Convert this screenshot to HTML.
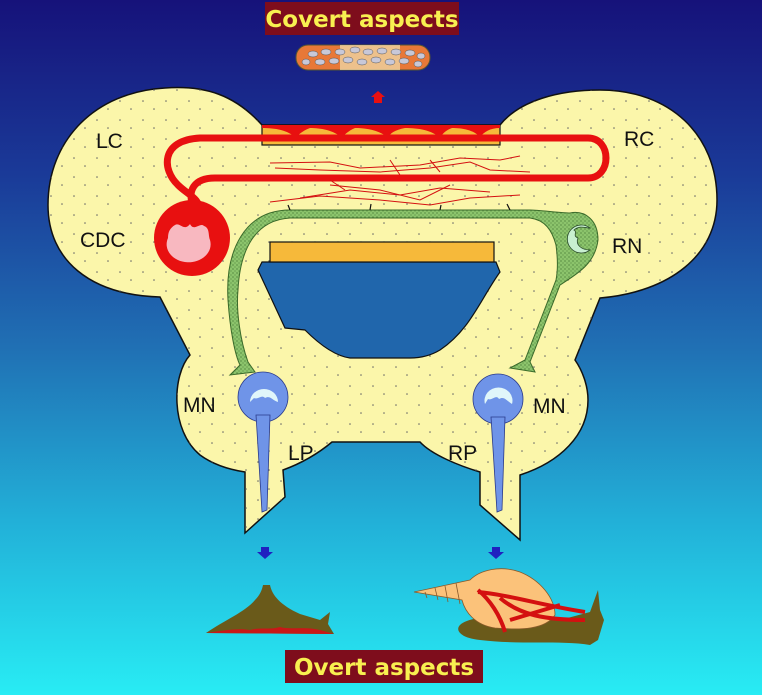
<!DOCTYPE html>
<html><head><style>
html,body{margin:0;padding:0}
body{width:762px;height:695px;overflow:hidden}
svg text{font-family:"Liberation Sans",sans-serif}
</style></head><body>
<svg width="762" height="695" viewBox="0 0 762 695" xmlns="http://www.w3.org/2000/svg">
<defs>
<linearGradient id="bg" x1="0" y1="0" x2="0" y2="1">
<stop offset="0" stop-color="#16127a"/>
<stop offset="0.25" stop-color="#1a3a98"/>
<stop offset="0.5" stop-color="#2070b4"/>
<stop offset="0.75" stop-color="#22b0d8"/>
<stop offset="1" stop-color="#28ecf4"/>
</linearGradient>
<pattern id="dots" width="23" height="19" patternUnits="userSpaceOnUse">
<circle cx="5" cy="6" r="0.8" fill="#666"/><circle cx="16" cy="14" r="0.8" fill="#666"/>
</pattern>
<pattern id="gd" width="4" height="4" patternUnits="userSpaceOnUse">
<rect width="4" height="4" fill="#8cc46c"/><circle cx="1" cy="1" r="0.6" fill="#3a6a2a"/><circle cx="3" cy="3" r="0.5" fill="#3a6a2a"/>
</pattern>
</defs>
<rect width="762" height="695" fill="url(#bg)"/>

<path d="M262,125 C235,95 205,85 165,88 C95,92 48,140 48,205 C48,260 90,295 160,297 L190,355 C172,375 170,430 200,455 C215,466 232,470 245,472 L245,533 L285,497 L283,470 C305,462 320,452 332,442 L420,442 C432,455 460,466 480,472 L480,505 L520,540 L520,475 C560,462 588,435 588,400 C588,385 582,370 575,360 L600,298 C670,292 717,255 717,200 C717,135 670,90 600,90 C560,90 520,100 500,125 Z" fill="#fbf6aa" stroke="#111" stroke-width="1.5"/>
<path d="M262,125 C235,95 205,85 165,88 C95,92 48,140 48,205 C48,260 90,295 160,297 L190,355 C172,375 170,430 200,455 C215,466 232,470 245,472 L245,533 L285,497 L283,470 C305,462 320,452 332,442 L420,442 C432,455 460,466 480,472 L480,505 L520,540 L520,475 C560,462 588,435 588,400 C588,385 582,370 575,360 L600,298 C670,292 717,255 717,200 C717,135 670,90 600,90 C560,90 520,100 500,125 Z" fill="url(#dots)"/>
<path d="M262,262 L496,262 L500,272 C480,300 470,330 440,350 C430,356 420,358 410,358 L350,358 C335,356 320,345 305,330 L285,328 L258,270 Z" fill="#2066ac" stroke="#111" stroke-width="1.2"/>
<rect x="270" y="242" width="224" height="20" fill="#f6b93a" stroke="#111" stroke-width="1.2"/>
<rect x="262" y="125" width="238" height="20" fill="#f6b93a" stroke="#111" stroke-width="1.2"/>
<path d="M262,125 H500 V128 C490,128 484,132 480,137 C474,130 462,128 452,128 C446,130 442,134 440,138 C432,130 418,128 405,128 C395,130 390,133 388,138 C380,130 365,128 355,128 C348,131 344,135 342,138 C334,130 320,128 310,128 C302,131 298,135 296,138 C288,130 275,128 262,128 Z" fill="#e81010"/>
<path d="M200,212 C200,198 188,195 178,185 C162,170 160,140 200,138 L588,138 C612,138 612,178 588,178 L215,178 C195,178 185,190 195,210" fill="none" stroke="#e81010" stroke-width="7"/>
<g stroke="#d41010" stroke-width="1" fill="none">
<path d="M270,163 L330,162 L360,168 L420,165 L460,158 L500,160 L520,156"/>
<path d="M275,168 L320,170 L380,172 L430,168 L470,162 L490,170 L530,172"/>
<path d="M300,198 L350,190 L400,195 L440,188 L490,192"/>
<path d="M270,202 L320,196 L380,200 L430,205 L470,198 L520,195"/>
<path d="M330,185 L380,190 L420,200 L450,185"/>
<path d="M330,180 L345,190"/><path d="M390,160 L400,175"/><path d="M430,160 L440,172"/>
</g>
<circle cx="192" cy="238" r="38" fill="#e81010"/>
<path d="M178,205 C190,205 200,200 206,205 L214,210 L176,212 Z" fill="#e81010"/>
<path d="M175,225 C180,222 184,232 190,224 C194,232 200,222 204,226 C210,228 208,235 210,240 A22,18 0 1 1 168,238 C168,232 170,228 175,225 Z" fill="#f8b8c0"/>
<path d="M570,213 C560,213 540,210 530,210 L290,210 C245,210 225,250 228,300 C230,330 235,355 240,365 L230,375 L255,372 L248,362 C240,340 236,310 238,290 C240,250 255,220 290,218 L530,218 C545,220 552,230 556,245 C558,260 558,270 556,280 L525,360 L510,368 L535,372 L530,362 L560,285 C575,275 595,265 598,240 C598,220 585,210 570,213 Z" fill="url(#gd)" stroke="#3a6a2a" stroke-width="1"/>
<path d="M590,228 A14,14 0 1 0 590,250 C582,250 575,245 578,238 C572,236 578,232 574,230 C580,225 585,228 590,228 Z" fill="#c8f0d0" stroke="#2a4a2a" stroke-width="0.8"/>
<g stroke="#111" stroke-width="1.2"><path d="M290,210 L288,205"/><path d="M370,210 L371,204"/><path d="M440,210 L441,205"/><path d="M510,210 L507,204"/></g>
<g fill="#6f94e8" stroke="#2a3a8a" stroke-width="0.8">
<circle cx="263" cy="397" r="25"/><path d="M256,415 L270,415 L267,510 L262,512 Z"/>
<circle cx="498" cy="399" r="25"/><path d="M491,417 L505,417 L502,510 L497,512 Z"/>
</g>
<path d="M250,402 A14,13 0 1 1 278,402 C272,400 270,395 265,398 C262,394 258,400 254,398 Z" fill="#e0f6fa"/>
<path d="M485,404 A14,13 0 1 1 512,404 C506,400 504,396 499,399 C496,394 492,401 488,399 Z" fill="#e0f6fa"/>
<g font-size="21" fill="#111">
<text x="96" y="148">LC</text><text x="624" y="146">RC</text>
<text x="80" y="247">CDC</text><text x="612" y="253">RN</text>
<text x="183" y="412">MN</text><text x="533" y="413">MN</text>
<text x="288" y="460">LP</text><text x="448" y="460">RP</text>
</g>
<rect x="265" y="2" width="194" height="33" fill="#7e0d1c"/>
<text x="362" y="27" text-anchor="middle" font-size="23" font-weight="bold" fill="#f8f050" style="font-family:'DejaVu Sans',sans-serif">Covert aspects</text>
<rect x="285" y="650" width="198" height="33" fill="#7e0d1c"/>
<text x="384" y="675" text-anchor="middle" font-size="23" font-weight="bold" fill="#f8f050" style="font-family:'DejaVu Sans',sans-serif">Overt aspects</text>
<rect x="296" y="45" width="134" height="25" rx="12" fill="#e87838" stroke="#553" stroke-width="1"/>
<rect x="340" y="45" width="60" height="25" fill="#f0e0b0" opacity="0.7"/>
<g fill="#c8c8d8" stroke="#555" stroke-width="0.5">
<ellipse cx="313" cy="54" rx="5" ry="3"/><ellipse cx="326" cy="52" rx="5" ry="3"/><ellipse cx="340" cy="52" rx="5" ry="3"/><ellipse cx="355" cy="50" rx="5" ry="3"/><ellipse cx="368" cy="52" rx="5" ry="3"/><ellipse cx="382" cy="51" rx="5" ry="3"/><ellipse cx="396" cy="52" rx="5" ry="3"/><ellipse cx="410" cy="53" rx="5" ry="3"/><ellipse cx="421" cy="56" rx="4" ry="3"/>
<ellipse cx="306" cy="62" rx="4" ry="3"/><ellipse cx="320" cy="62" rx="5" ry="3"/><ellipse cx="334" cy="61" rx="5" ry="3"/><ellipse cx="348" cy="60" rx="5" ry="3"/><ellipse cx="362" cy="62" rx="5" ry="3"/><ellipse cx="376" cy="60" rx="5" ry="3"/><ellipse cx="390" cy="62" rx="5" ry="3"/><ellipse cx="404" cy="61" rx="5" ry="3"/><ellipse cx="418" cy="64" rx="4" ry="3"/>
</g>
<path d="M378,91 L385,97 L382,97 L382,103 L374,103 L374,97 L371,97 Z" fill="#e81010"/>
<path d="M261,547 L269,547 L269,552 L273,552 L265,559 L257,552 L261,552 Z" fill="#2020c0"/>
<path d="M492,547 L500,547 L500,552 L504,552 L496,559 L488,552 L492,552 Z" fill="#2020c0"/>
<path d="M206,633 C225,620 245,612 255,600 C260,595 262,590 263,585 L270,585 C272,595 280,605 300,614 L320,620 L330,612 L328,624 L334,634 Z" fill="#6a5a1a"/>
<path d="M206,633 C225,630 240,628 250,630 C260,627 270,630 280,627 C290,630 305,626 320,630 L334,634 Z" fill="#c81818"/>
<path d="M460,625 C470,615 520,612 560,620 L590,612 L598,590 L600,610 L604,620 L598,640 L590,645 C560,640 520,645 480,640 C460,638 455,630 460,625 Z" fill="#6a5a1a"/>
<path d="M414,592 L470,580 C480,570 500,565 520,572 C540,580 555,598 555,615 C545,630 520,630 495,628 C475,625 465,612 462,600 Z" fill="#fbc27a" stroke="#8a5a2a" stroke-width="0.8"/>
<g stroke="#8a5a2a" stroke-width="0.8" fill="none"><path d="M425,592 L427,598"/><path d="M435,588 L438,600"/><path d="M445,586 L448,602"/><path d="M456,583 L460,604"/></g>
<g stroke="#d41010" stroke-width="4" fill="none"><path d="M478,590 C490,600 500,615 505,632"/><path d="M478,592 C510,595 540,605 585,612"/><path d="M500,598 C520,615 545,620 585,620"/><path d="M510,620 L560,605"/></g>
</svg>
</body></html>
